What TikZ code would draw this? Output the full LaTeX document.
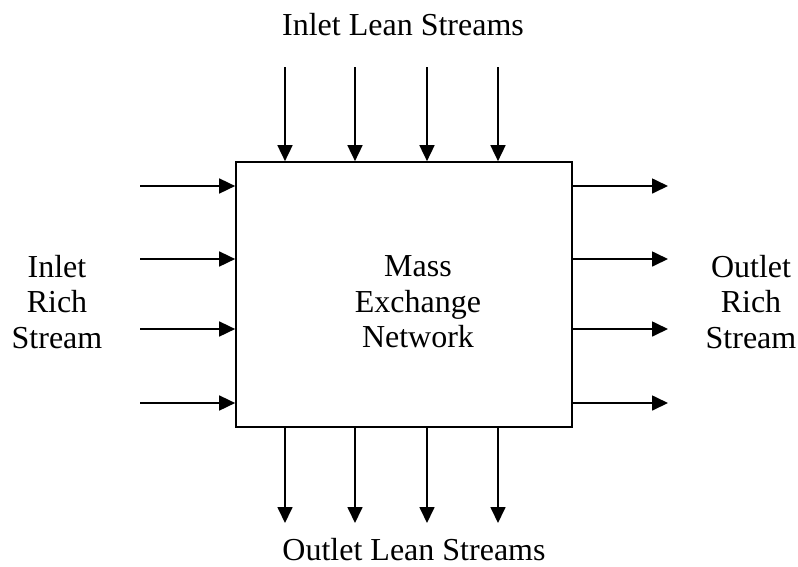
\documentclass[tikz,border=0pt]{standalone}
\usepackage{fontspec}
\setmainfont{Liberation Serif}
\usetikzlibrary{arrows.meta}
\begin{document}
\begin{tikzpicture}[x=1pt,y=-1pt,
  flow/.style={line width=1.7pt,-{Triangle[length=16pt,width=15pt]}},
  lbl/.style={font=\fontsize{32}{35.5}\selectfont,align=center,inner sep=0pt}]
\useasboundingbox (0,0) rectangle (798,566);
\node[draw,line width=1.7pt,minimum width=336pt,minimum height=265pt,inner sep=0pt] (box) at (404,294.5) {};
\node[lbl] (mass) at (418,302) {Mass\\Exchange\\Network};
\node[lbl,anchor=base] (ilean) at (403,35) {Inlet Lean Streams};
\node[lbl,anchor=base] (olean) at (414,560) {Outlet Lean Streams};
\node[lbl] (irich) at (57,302) {Inlet\\Rich\\Stream};
\node[lbl] (orich) at (751,302) {Outlet\\Rich\\Stream};
\foreach \x [count=\i] in {285,355,427,498}{
  \coordinate (t\i) at (\x,67);
  \coordinate (b\i) at (\x,523);
  \draw[flow] (t\i) -- (t\i |- box.north);
  \draw[flow] (b\i |- box.south) -- (b\i);
}
\foreach \y [count=\i] in {186,259,329,403}{
  \coordinate (l\i) at (140,\y);
  \coordinate (r\i) at (668,\y);
  \draw[flow] (l\i) -- (l\i -| box.west);
  \draw[flow] (r\i -| box.east) -- (r\i);
}
\end{tikzpicture}
\end{document}
